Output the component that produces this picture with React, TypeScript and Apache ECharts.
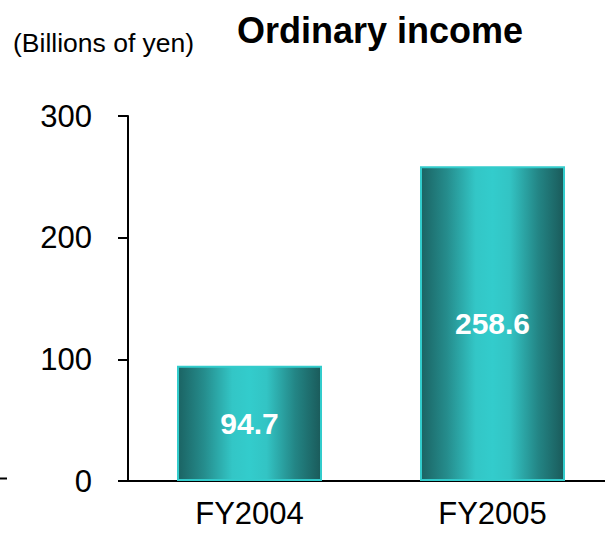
import React, { useEffect, useRef } from "react";
import * as echarts from "echarts";

const categories = ["FY2004", "FY2005"];
const values = [94.7, 258.6];
const yTicks = [0, 100, 200, 300];
const titleText = "Ordinary income";
const unitText = "(Billions of yen)";

const FONT = "'Liberation Sans', Arial, Helvetica, sans-serif";

export default function App() {
  const ref = useRef<HTMLDivElement>(null);
  useEffect(() => {
    if (!ref.current) return;
    const chart = echarts.init(ref.current, undefined, { renderer: "svg" });
    const gradient = new echarts.graphic.LinearGradient(0, 0, 1, 0, [
      { offset: 0, color: "#1b6363" },
      { offset: 0.18, color: "#258c8c" },
      { offset: 0.38, color: "#33c6c6" },
      { offset: 0.5, color: "#33cccc" },
      { offset: 0.62, color: "#33c4c4" },
      { offset: 0.82, color: "#238585" },
      { offset: 1, color: "#1a5a5a" },
    ]);
    chart.setOption({
      animation: false,
      backgroundColor: "#ffffff",
      title: [
        {
          text: titleText,
          left: 380,
          top: 12,
          padding: 0,
          textAlign: "center",
          textStyle: { fontFamily: FONT, fontWeight: "bold", fontSize: 36, color: "#000" },
        },
        {
          text: unitText,
          left: 13,
          top: 29,
          padding: 0,
          textStyle: { fontFamily: FONT, fontWeight: "normal", fontSize: 26.5, color: "#000" },
        },
      ],
      grid: { left: 128, right: 0, top: 116, bottom: 58, containLabel: false },
      xAxis: {
        type: "category",
        data: categories,
        axisLine: { show: true, lineStyle: { color: "#000", width: 2 } },
        axisTick: { show: false },
        axisLabel: { fontFamily: FONT, fontSize: 31, color: "#000", margin: 17 },
      },
      yAxis: {
        type: "value",
        min: yTicks[0],
        max: yTicks[yTicks.length - 1],
        interval: 100,
        splitLine: { show: false },
        axisLine: { show: true, lineStyle: { color: "#000", width: 2 } },
        axisTick: { show: true, length: 10, lineStyle: { color: "#000", width: 2 } },
        axisLabel: { fontFamily: FONT, fontSize: 31, color: "#000", margin: 36 },
      },
      series: [
        {
          type: "bar",
          data: values,
          barWidth: 145,
          itemStyle: { color: gradient, borderColor: "#33cccc", borderWidth: 2 },
          label: {
            show: true,
            position: "inside",
            formatter: (p: any) => p.value.toFixed(1),
            fontFamily: FONT,
            fontWeight: "bold",
            fontSize: 30,
            color: "#ffffff",
          },
        },
      ],
      graphic: [
        {
          type: "line",
          shape: { x1: 0, y1: 478.5, x2: 7, y2: 478.5 },
          style: { stroke: "#000", lineWidth: 2 },
        },
      ],
    });
    return () => chart.dispose();
  }, []);
  return (
    <div style={{ width: 605, height: 539, position: "absolute", left: 0, top: 0, overflow: "hidden" }}>
      <div ref={ref} style={{ width: 614, height: 539 }} />
    </div>
  );
}
